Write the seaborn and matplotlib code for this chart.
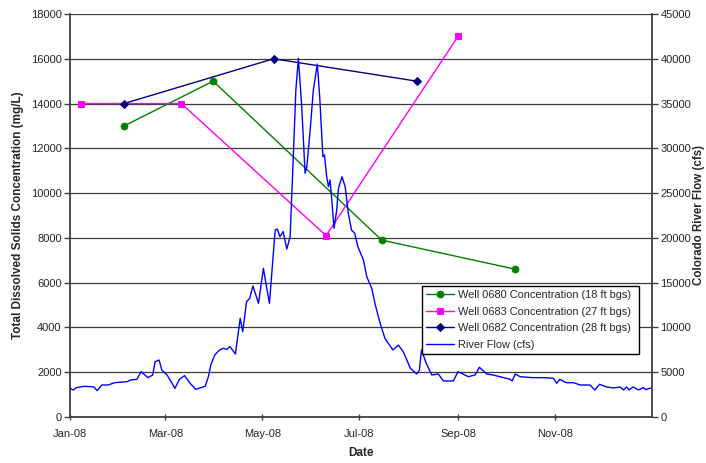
import matplotlib
matplotlib.use("Agg")
import matplotlib.pyplot as plt
import matplotlib.dates as mdates
import numpy as np
import pandas as pd
import seaborn as sns

# Well sampling results (Total Dissolved Solids, mg/L)
well_0680_dates = ["2008-02-04", "2008-03-31", "2008-07-15", "2008-10-07"]
well_0680_tds = [13000, 15000, 7900, 6600]

well_0683_dates = ["2008-01-08", "2008-03-11", "2008-06-10", "2008-09-01"]
well_0683_tds = [14000, 14000, 8100, 17000]

well_0682_dates = ["2008-02-04", "2008-05-08", "2008-08-06"]
well_0682_tds = [14000, 16000, 15000]

# Colorado River daily flow (cfs), keyed by days since 1 Jan 2008
flow_day = [0, 2, 4, 9, 15, 17, 20, 24, 28, 36, 38, 42, 44.7, 49, 52, 53.5, 56,
            57.7, 61, 66, 68.8, 72, 75.5, 79, 85, 87, 88.5, 91, 94, 96.4, 98.5,
            100.6, 104, 107, 108.6, 111, 113, 115, 118.5, 121.6, 123.7, 125.4,
            129, 130.4, 132, 134, 136.3, 138.4, 140.4, 142, 143.6, 145.7, 147.8,
            148.9, 151, 153, 155.5, 157, 159, 160, 161.4, 162.5, 163.5, 164.6,
            166, 167.7, 168.8, 171, 173, 175, 177, 179, 181, 184.5, 186.6, 189.7,
            192, 195, 198, 203, 206.5, 209.6, 214, 218, 219.7, 221, 224, 227.5,
            231.6, 234.8, 241, 244, 250.5, 254.7, 257.4, 262, 266, 276.7, 278,
            280, 283, 291, 297.7, 304, 306, 308, 312, 316.6, 320.8, 327, 330,
            333, 337.5, 341.7, 346, 348, 350, 351.5, 354, 357.5, 360.5, 362, 365]
flow_cfs = [3200, 3010, 3275, 3425, 3350, 2940, 3570, 3570, 3830, 3945, 4130,
            4205, 5060, 4390, 4690, 6180, 6360, 5250, 4690, 3200, 4205, 4615,
            3760, 3090, 3425, 4500, 5800, 6920, 7480, 7670, 7550, 7850, 7030,
            11020, 9530, 12870, 13250, 14630, 12690, 16600, 14370, 12690, 20880,
            20980, 20130, 20700, 18760, 20130, 29070, 36510, 40050, 34650, 27210,
            27950, 32050, 36510, 39410, 35760, 29070, 29260, 26830, 25720, 26460,
            24230, 21070, 23110, 25530, 26830, 25720, 22740, 20880, 20510, 19020,
            17530, 15670, 14370, 12500, 10460, 8790, 7480, 8020, 7270, 5440, 4800,
            5220, 7480, 5990, 4690, 4800, 4020, 4020, 5060, 4500, 4690, 5550,
            4800, 4690, 4210, 4020, 4800, 4500, 4390, 4390, 4320, 3760, 4200,
            3830, 3830, 3570, 3570, 3020, 3650, 3350, 3240, 3350, 3020, 3350,
            3020, 3350, 3020, 3280, 3050, 3240]

left_ticks = [0, 2000, 4000, 6000, 8000, 10000, 12000, 14000, 16000, 18000]
right_ticks = [0, 5000, 10000, 15000, 20000, 25000, 30000, 35000, 40000, 45000]
date_ticks = ["2008-01-01", "2008-03-01", "2008-05-01", "2008-07-01",
              "2008-09-01", "2008-11-01"]

start = pd.Timestamp("2008-01-01")
flow_dates = start + pd.to_timedelta(flow_day, unit="D")

sns.set_style("white")
plt.rcParams["font.family"] = ["Liberation Sans", "DejaVu Sans"]

fig = plt.figure(figsize=(7.06, 4.63), dpi=100)
ax = fig.add_axes([0.0992, 0.0994, 0.8244, 0.8704])
ax2 = ax.twinx()

# horizontal grid tied to the concentration axis
ax.set_ylim(0, 18000)
ax.set_yticks(left_ticks)
ax.yaxis.grid(True, color="#3a3a3a", linewidth=0.9)
ax.set_axisbelow(True)

wells = [
    (well_0680_dates, well_0680_tds, "#008000", "o", 4.8, "Well 0680 Concentration (18 ft bgs)"),
    (well_0683_dates, well_0683_tds, "#FF00FF", "s", 4.6, "Well 0683 Concentration (27 ft bgs)"),
    (well_0682_dates, well_0682_tds, "#000080", "D", 3.8, "Well 0682 Concentration (28 ft bgs)"),
]
for dates, vals, color, mk, ms, lab in wells:
    sns.lineplot(x=pd.to_datetime(dates), y=vals, ax=ax, color=color, marker=mk,
                 markersize=ms, markeredgecolor=color, linewidth=1.0, label=lab,
                 zorder=3)

sns.lineplot(x=flow_dates, y=flow_cfs, ax=ax2, color="#0000FF", linewidth=1.0,
             label="River Flow (cfs)", zorder=2)

ax2.set_ylim(0, 45000)
ax2.set_yticks(right_ticks)

ax.set_xlim(pd.Timestamp("2008-01-01"), pd.Timestamp("2009-01-01"))
ax.set_xticks(pd.to_datetime(date_ticks))
ax.xaxis.set_major_formatter(mdates.DateFormatter("%b-%y"))

for a in (ax, ax2):
    a.spines["top"].set_visible(False)
    for s in a.spines.values():
        s.set_color("#404040")
        s.set_linewidth(1.3)
ax.spines["right"].set_visible(False)
ax2.spines["left"].set_visible(False)
ax2.spines["bottom"].set_visible(False)

ax.tick_params(axis="y", which="major", left=True, direction="out", length=4,
               width=1, color="#404040", labelsize=8, pad=2)
ax.tick_params(axis="x", which="major", bottom=True, direction="inout", length=5,
               width=1, color="#404040", labelsize=8, pad=6)
ax2.tick_params(axis="y", which="major", right=True, direction="out", length=4,
                width=1, color="#404040", labelsize=8, pad=2)

ax.set_xlabel("Date", fontsize=8.5, fontweight="bold", labelpad=6)
ax.set_ylabel("Total Dissolved Solids Concentration (mg/L)", fontsize=8.5,
              fontweight="bold", labelpad=5)
ax2.set_ylabel("Colorado River Flow (cfs)", fontsize=8.3, fontweight="bold",
               labelpad=1.5)

h1, l1 = ax.get_legend_handles_labels()
h2, l2 = ax2.get_legend_handles_labels()
if ax.get_legend():
    ax.get_legend().remove()
leg = ax2.legend(h1 + h2, l1 + l2, loc="lower left",
                 bbox_to_anchor=(0.604, 0.156, 0.374, 0.179), mode="expand",
                 fontsize=7.9, frameon=True, fancybox=False, framealpha=1,
                 edgecolor="#000000", borderpad=0.4, labelspacing=0.6,
                 handlelength=2.6, handletextpad=0.3, borderaxespad=0)
leg.get_frame().set_linewidth(1.0)

fig.savefig("out.png", dpi=100)
